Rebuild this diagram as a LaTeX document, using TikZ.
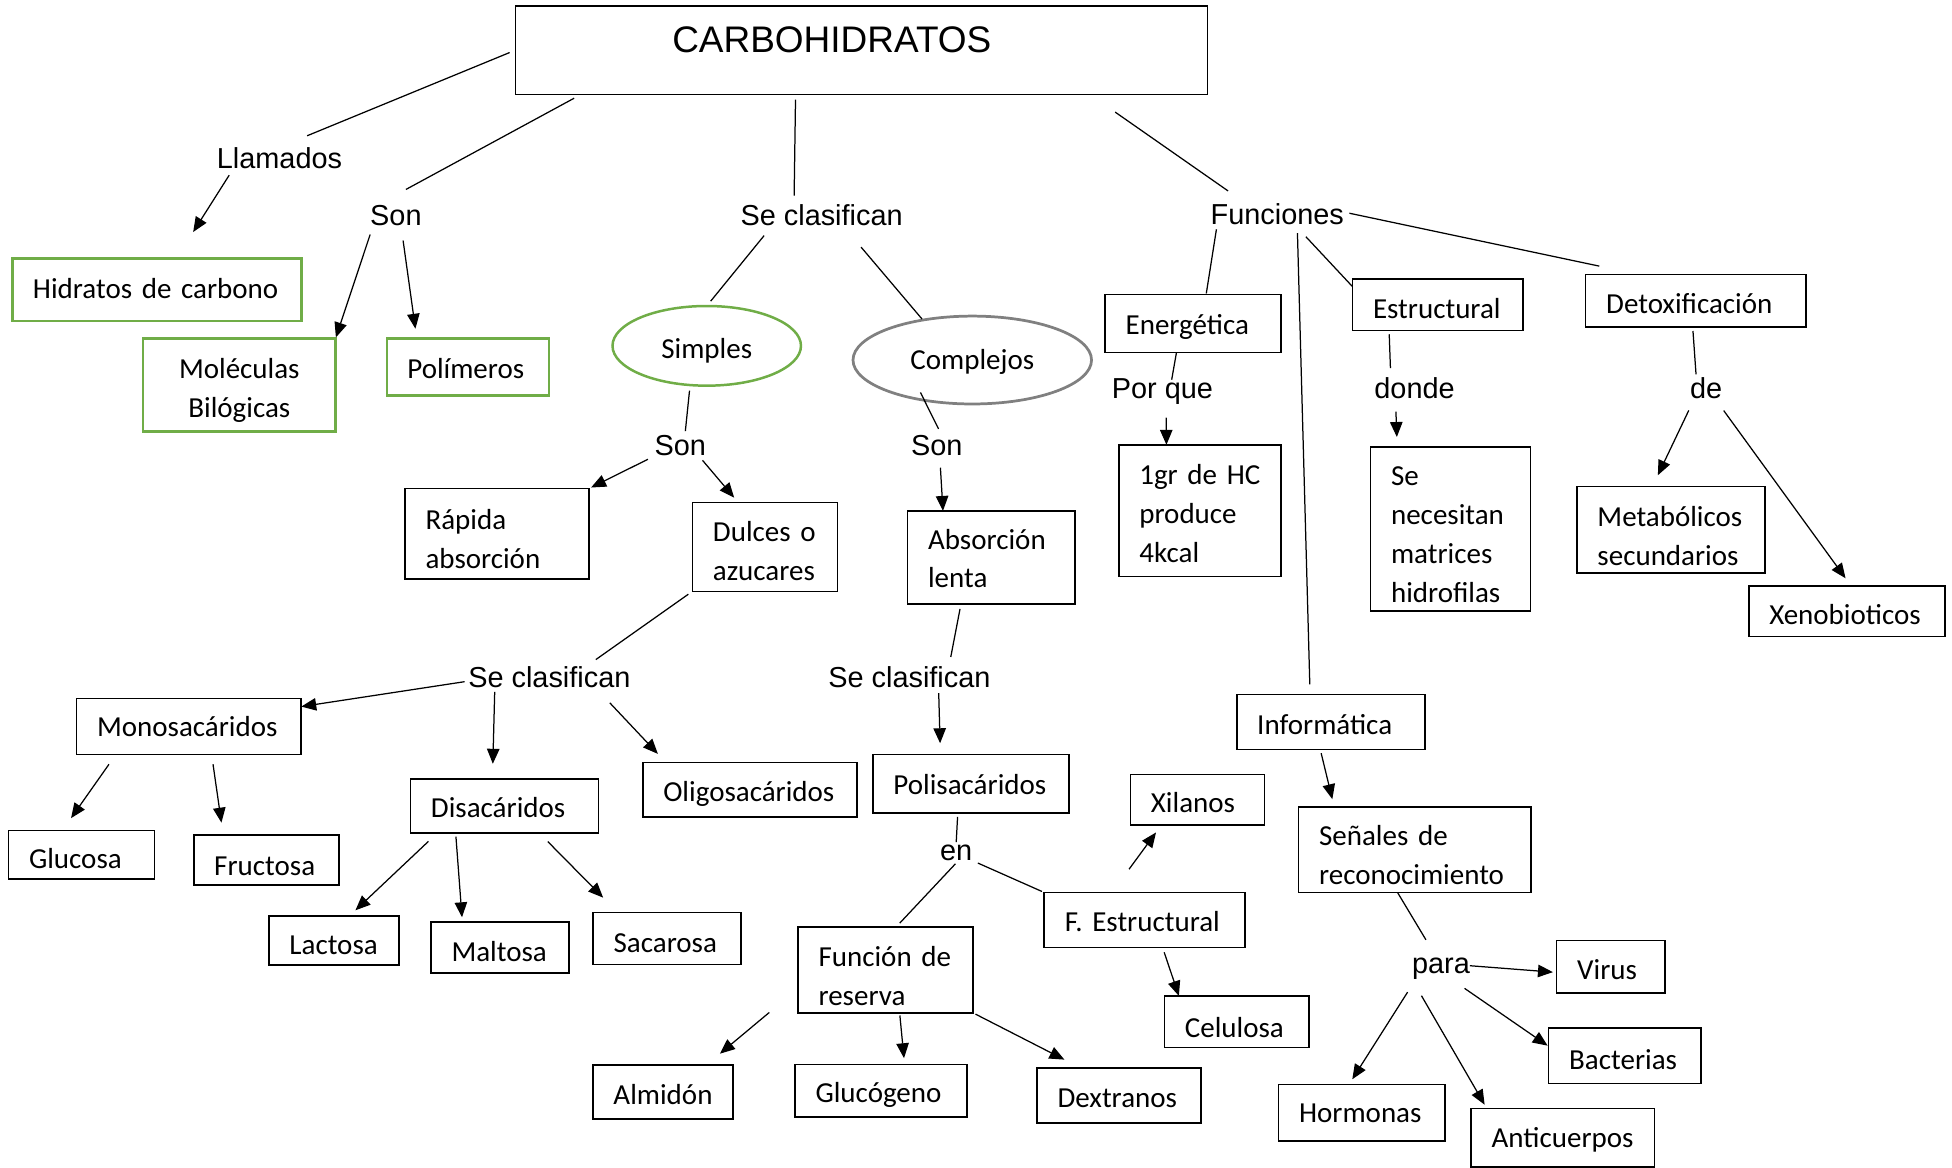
\documentclass[tikz,border=0pt]{standalone}
\usepackage{fontspec}
\setmainfont{Carlito}
\newfontfamily\arialfont{Liberation Sans}
\usepackage{tikz}
\usetikzlibrary{arrows.meta, shapes.geometric}

\definecolor{officegreen}{RGB}{112,173,71}
\definecolor{ovalgray}{RGB}{128,128,128}

\newcommand\boxfont{\fontsize{23.3}{31.3}\selectfont}
\newcommand\wordfont{\arialfont\fontsize{23.2}{28}\selectfont}
\newcommand\titlefont{\arialfont\fontsize{29.7}{36}\selectfont}

\hyphenpenalty=10000
\exhyphenpenalty=10000

\tikzset{
  cbox/.style={draw, line width=1.3pt, anchor=north west, align=left,
    inner xsep=16.5pt, inner ysep=0pt, outer sep=0pt, font=\boxfont},
  gbox/.style={cbox, draw=officegreen, line width=2pt},
  oval/.style={ellipse, line width=2pt, inner sep=0pt, outer sep=0pt,
    font=\boxfont, text depth=5.6pt},
  linkword/.style={anchor=base, inner sep=0pt, outer sep=0pt, font=\wordfont},
  plainlink/.style={line width=1pt},
  arrowlink/.style={plainlink, -{Triangle[length=12pt, width=10pt]}},
}

\begin{document}
\begin{tikzpicture}[x=1pt, y=-1pt]
    \useasboundingbox (0,0) rectangle (1568,938);

    % title
    \node[cbox, font=\titlefont, inner xsep=126pt, text width=304pt,
      text height=37.4pt, text depth=34pt] (carbo) at (414,4.6) {CARBOHIDRATOS};

    % first level words
    \node[linkword] (llamados) at (224.5,135) {Llamados};
    \node[linkword] (son1) at (318,181.5) {Son};
    \node[linkword] (seclas1) at (660,181.5) {Se clasifican};
    \node[linkword] (funciones) at (1026,180.5) {Funciones};

    % green boxes
    \node[gbox, text width=199pt, text height=32.5pt, text depth=18pt] (hidratos) at (10,207.5) {Hidratos de carbono};
    \node[gbox, align=center, text width=121.5pt, text height=32pt, text depth=42.5pt] (moleculas) at (115,272) {Moléculas\\Bilógicas};
    \node[gbox, text width=97.3pt, text height=32pt, text depth=13.5pt] (polimeros) at (310.7,272) {Polímeros};

    % simples and complejos
    \node[oval, draw=officegreen, minimum width=151.4pt, minimum height=64pt, text height=26pt] (simples) at (567.7,277.8) {Simples};
    \node[oval, draw=ovalgray, line width=2.2pt, minimum width=191.6pt, minimum height=70.6pt, text height=20.6pt] (complejos) at (781,289.2) {Complejos};

    \node[linkword] (son2) at (546.5,366) {Son};
    \node[linkword] (son3) at (752.5,366) {Son};

    \node[cbox, text width=114.7pt, text height=32.5pt, text depth=40pt] (rapida) at (325.3,392.5) {Rápida\\absorción};
    \node[cbox, text width=83.5pt, text height=31.4pt, text depth=40pt] (dulces) at (556.2,403.6) {Dulces o\\azucares};
    \node[cbox, text width=101.4pt, text height=30.6pt, text depth=44.2pt] (absorcion) at (729,410.4) {Absorción\\lenta};

    % sugars
    \node[linkword] (seclas2) at (441.3,552) {Se clasifican};
    \node[linkword] (seclas3) at (730.5,552) {Se clasifican};

    \node[cbox, text width=147.5pt, text height=31pt, text depth=14pt] (monosac) at (61.5,561) {Monosacáridos};
    \node[cbox, text width=118.1pt, text height=31.5pt, text depth=12pt] (disac) at (329.7,625.5) {Disacáridos};
    \node[cbox, text width=138.9pt, text height=31.5pt, text depth=12.2pt] (oligo) at (516.3,612.5) {Oligosacáridos};
    \node[cbox, text width=124.3pt, text height=32pt, text depth=15.2pt] (polisac) at (701.2,606) {Polisacáridos};

    \node[cbox, text width=84.2pt, text height=31pt, text depth=8pt] (glucosa) at (6.8,667) {Glucosa};
    \node[cbox, text width=83.7pt, text height=32.3pt, text depth=7.7pt] (fructosa) at (155.6,670.7) {Fructosa};
    \node[cbox, text width=71.5pt, text height=31pt, text depth=8pt] (lactosa) at (216,736) {Lactosa};
    \node[cbox, text width=77.8pt, text height=31.7pt, text depth=9pt] (maltosa) at (346.2,740.8) {Maltosa};
    \node[cbox, text width=85.6pt, text height=32pt, text depth=9.9pt] (sacarosa) at (476.4,733) {Sacarosa};

    % polisacaridos
    \node[linkword] (en) at (768,691) {en};
    \node[cbox, text width=107.8pt, text height=31.6pt, text depth=37.7pt] (funcion) at (641,744.4) {Función de\\reserva};
    \node[cbox, text width=128.4pt, text height=31.1pt, text depth=13pt] (festructural) at (838.8,716.9) {F. Estructural};
    \node[cbox, text width=74.8pt, text height=30.8pt, text depth=9.8pt] (xilanos) at (908,622.2) {Xilanos};
    \node[cbox, text width=83.1pt, text height=33pt, text depth=8.3pt] (celulosa) at (935.3,800) {Celulosa};
    \node[cbox, text width=79.7pt, text height=31.7pt, text depth=12pt] (almidon) at (476.3,855.3) {Almidón};
    \node[cbox, text width=105.1pt, text height=31pt, text depth=11.2pt] (glucogeno) at (638.6,855) {Glucógeno};
    \node[cbox, text width=98.6pt, text height=32pt, text depth=12.2pt] (dextranos) at (833,858) {Dextranos};

    % funciones
    \node[cbox, text width=108.5pt, text height=32.3pt, text depth=14.3pt] (energetica) at (887.7,236.7) {Energética};
    \node[cbox, text width=103.9pt, text height=32pt, text depth=9.5pt] (estructural) at (1086.4,224) {Estructural};
    \node[cbox, text width=144.2pt, text height=31.4pt, text depth=10.9pt] (detox) at (1273.7,220.6) {Detoxificación};

    \node[linkword] (porque) at (933.8,320) {Por que};
    \node[linkword] (donde) at (1136.3,320) {donde};
    \node[linkword] (de) at (1370.5,320) {de};

    \node[cbox, text width=97.5pt, text height=31.7pt, text depth=74.2pt] (unogr) at (898.7,357.3) {1gr de HC\\produce\\4kcal};
    \node[cbox, text width=95.4pt, text height=31pt, text depth=100.7pt] (senecesitan) at (1100.9,359) {Se\\necesitan\\matrices\\hidrofilas};
    \node[cbox, text width=117.9pt, text height=32.2pt, text depth=37.3pt] (metabolicos) at (1266.7,390.8) {Metabólicos\\secundarios};
    \node[cbox, text width=124.8pt, text height=31.5pt, text depth=9.4pt] (xenobioticos) at (1404.7,470.5) {Xenobioticos};

    % informatica
    \node[cbox, text width=118.2pt, text height=32.2pt, text depth=12pt] (informatica) at (993.4,557.8) {Informática};
    \node[cbox, text width=153.8pt, text height=31pt, text depth=37.9pt] (senales) at (1043.1,648) {Señales de\\reconocimiento};
    \node[linkword] (para) at (1157.5,782) {para};
    \node[cbox, text width=53.8pt, text height=31.4pt, text depth=10.5pt] (virus) at (1250.4,755.6) {Virus};
    \node[cbox, text width=89.5pt, text height=33.1pt, text depth=11.2pt] (bacterias) at (1244,825.9) {Bacterias};
    \node[cbox, text width=100.6pt, text height=31pt, text depth=14.5pt] (hormonas) at (1027,871) {Hormonas};
    \node[cbox, text width=114.3pt, text height=31.5pt, text depth=15.3pt] (anticuerpos) at (1181.7,890.5) {Anticuerpos};

    % links from the title
    \draw[plainlink, shorten <=5pt, shorten >=24pt] (carbo.west) -- (llamados.north);
    \draw[plainlink, shorten <=6pt, shorten >=27.5pt] (carbo.189) -- (son1.153);
    \draw[plainlink, shorten <=4pt, shorten >=7.5pt] (carbo.214) -- (seclas1.159);
    \draw[plainlink, shorten <=24.5pt, shorten >=18pt] (carbo.349) -- (funciones.161);

    \draw[arrowlink, shorten <=6.5pt, shorten >=25pt] (llamados.193) -- (hidratos.58);
    \draw[arrowlink, shorten <=7pt, shorten >=1pt] (son1.204) -- (moleculas.north east);
    \draw[arrowlink, shorten <=11.6pt, shorten >=8pt] (son1.297) -- (polimeros.151);

    % simples and complejos
    \draw[plainlink, shorten <=9.7pt, shorten >=5pt] (seclas1.192) -- (simples.north);
    \draw[plainlink, shorten <=22pt, shorten >=1pt] (seclas1.334) -- (complejos.141);
    \draw[plainlink, shorten <=4.5pt, shorten >=3.5pt] (simples.247) -- (son2.66);
    \draw[plainlink, shorten <=-7pt, shorten >=5.9pt] (complejos.220) -- (son3.64);
    \draw[arrowlink, shorten <=6pt, shorten >=2pt] (son2.south west) -- (rapida.north east);
    \draw[arrowlink, shorten <=4.6pt, shorten >=5pt] (son2.331) -- (dulces.121);
    \draw[arrowlink, shorten <=9.5pt] (son3.286) -- (absorcion.136);

    % sugars
    \draw[plainlink, shorten <=4pt, shorten >=9.3pt] (dulces.south west) -- (seclas2.16);
    \draw[arrowlink, shorten <=3pt] (seclas2.183) -- (monosac.10);
    \draw[arrowlink, shorten <=3.5pt, shorten >=12pt] (seclas2.191) -- (disac.114);
    \draw[arrowlink, shorten <=17pt, shorten >=9.5pt] (seclas2.347) -- (oligo.162);
    \draw[plainlink, shorten <=4pt, shorten >=7.6pt] (absorcion.237) -- (seclas3.15);
    \draw[arrowlink, shorten <=4.5pt, shorten >=9pt] (seclas3.340) -- (polisac.136);

    \draw[arrowlink, shorten <=9.7pt, shorten >=12pt] (monosac.201) -- (glucosa.128);
    \draw[arrowlink, shorten <=8pt, shorten >=10pt] (monosac.309) -- (fructosa.150);
    \draw[arrowlink, shorten <=10pt, shorten >=7pt] (disac.202) -- (lactosa.58);
    \draw[arrowlink, shorten <=3pt, shorten >=4pt] (disac.209) -- (maltosa.146);
    \draw[arrowlink, shorten <=9.8pt, shorten >=16.8pt] (disac.322) -- (sacarosa.152);

    % polisacaridos
    \draw[plainlink, shorten <=3pt, shorten >=2pt] (polisac.246) -- (en.north);
    \draw[plainlink, shorten <=3.6pt, shorten >=4pt] (en.287) -- (funcion.76);
    \draw[plainlink, shorten <=5pt, shorten >=2pt] (en.south east) -- (festructural.north west);
    \draw[arrowlink, shorten <=23.2pt, shorten >=7.3pt] (festructural.140) -- (xilanos.215);
    \draw[arrowlink, shorten <=4.2pt] (festructural.303) -- (celulosa.156);
    \draw[arrowlink, shorten <=30pt, shorten >=13.9pt] (funcion.192) -- (almidon.32);
    \draw[arrowlink, shorten <=2pt, shorten >=5pt] (funcion.288) -- (glucogeno.48);
    \draw[arrowlink, shorten <=2pt, shorten >=15pt] (funcion.south east) -- (dextranos.144);

    % funciones
    \draw[plainlink, shorten <=3.5pt, shorten >=1pt] (funciones.190) -- (energetica.66);
    \draw[plainlink, shorten >=-1pt] (energetica.240) -- (porque.54);
    \draw[arrowlink, shorten <=10.6pt] (porque.285) -- (unogr.117);
    \draw[plainlink, shorten <=6.5pt, shorten >=8pt] (funciones.332) -- (informatica.127);
    \draw[plainlink, shorten <=12.9pt] (funciones.329) -- (estructural.168);
    \draw[plainlink, shorten <=4.5pt, shorten >=33pt] (funciones.2) -- (detox.155);
    \draw[plainlink, shorten <=3pt, shorten >=7.5pt] (estructural.208) -- (donde.156);
    \draw[arrowlink, shorten <=10.5pt, shorten >=8pt] (donde.209) -- (senecesitan.123);
    \draw[plainlink, shorten <=3pt, shorten >=2.5pt] (detox.263) -- (de.133);
    \draw[arrowlink, shorten <=10.5pt, shorten >=10pt] (de.222) -- (metabolicos.113);
    \draw[arrowlink, shorten <=11.8pt, shorten >=7.4pt] (de.310) -- (xenobioticos.81);

    % informatica
    \draw[arrowlink, shorten <=3.1pt, shorten >=6.2pt] (informatica.249) -- (senales.152);
    \draw[plainlink, shorten >=17pt] (senales.248) -- (para.111);
    \draw[arrowlink, shorten >=3pt] (para.6) -- (virus.186);
    \draw[arrowlink, shorten <=12.5pt, shorten >=1pt] (para.315) -- (bacterias.173);
    \draw[arrowlink, shorten <=12pt, shorten >=4.8pt] (para.203) -- (hormonas.114);
    \draw[arrowlink, shorten <=15pt, shorten >=3.6pt] (para.south west) -- (anticuerpos.159);

  \end{tikzpicture}
\end{document}
